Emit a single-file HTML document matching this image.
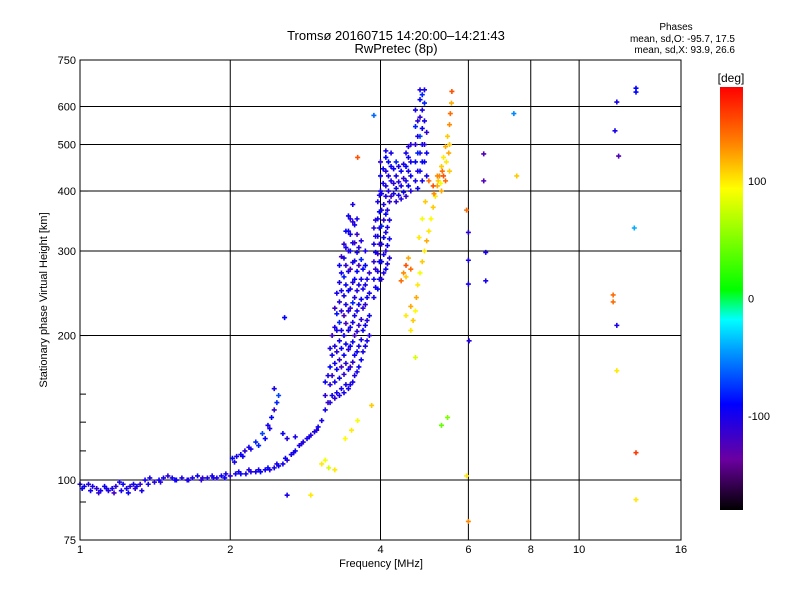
<!DOCTYPE html>
<html><head><meta charset="utf-8"><style>
body{margin:0;background:#fff;}
svg{display:block;font-family:"Liberation Sans",sans-serif;}
</style></head><body>
<svg id="chart" width="800" height="600" viewBox="0 0 800 600" xmlns="http://www.w3.org/2000/svg">
<rect x="0" y="0" width="800" height="600" fill="#fff"/>
<text x="396" y="40" text-anchor="middle" font-size="13">Tromsø 20160715 14:20:00–14:21:43</text>
<text x="396" y="53" text-anchor="middle" font-size="13">RwPretec (8p)</text>
<text x="676" y="30" text-anchor="middle" font-size="10">Phases</text>
<text x="735" y="42" text-anchor="end" font-size="10">mean, sd,O: -95.7, 17.5</text>
<text x="735" y="53" text-anchor="end" font-size="10">mean, sd,X:  93.9, 26.6</text>
<g id="grid"></g>
<g id="marks"></g>
<rect x="80" y="60" width="601" height="480" fill="none" stroke="#000" stroke-width="1"/>
<g id="axes"></g>
<text x="381" y="567" text-anchor="middle" font-size="11">Frequency [MHz]</text>
<text transform="translate(47,300) rotate(-90)" text-anchor="middle" font-size="11">Stationary phase Virtual Height [km]</text>
<defs><linearGradient id="cbg" x1="0" y1="1" x2="0" y2="0">
<stop offset="0" stop-color="#000000"/><stop offset="0.12" stop-color="#6a00a0"/><stop offset="0.25" stop-color="#0000ff"/><stop offset="0.38" stop-color="#00a0ff"/><stop offset="0.45" stop-color="#00ffff"/><stop offset="0.52" stop-color="#00ff00"/><stop offset="0.76" stop-color="#ffff00"/><stop offset="0.87" stop-color="#ff8000"/><stop offset="1" stop-color="#ff0000"/>
</linearGradient></defs>
<rect x="720" y="87" width="23" height="423" fill="url(#cbg)"/>
<text x="731" y="82" text-anchor="middle" font-size="12">[deg]</text>
<g id="cbticks"></g>
</svg>
<script>
const xTicks=[1,2,4,6,8,10,16];
const xGrid=[2,4,6,8,10];
const yTicks=[75,100,200,300,400,500,600,750];
const yGrid=[100,200,300,400,500,600];
const yMinor=[90,115,132,151];
const cbTicks=[100,0,-100];
const oFreq=[1.0,1.02,1.04,1.06,1.08,1.1,1.12,1.14,1.16,1.18,1.2,1.22,1.24,1.26,1.28,1.3,1.32,1.35,1.38,1.41,1.44,1.47,1.5,1.53,1.56,1.6,1.64,1.68,1.72,1.76,1.8,1.84,1.88,1.92,1.96,2.0,2.05,2.1,2.15,2.2,2.25,2.3,2.35,2.4,2.45,2.5,2.55,2.6,2.65,2.7,2.75,2.8,2.85,2.9,2.95,3.0,3.05,
1.01,1.05,1.09,1.13,1.17,1.21,1.25,1.29,1.33,1.37,1.45,1.55,1.65,1.75,1.85,1.95,2.08,2.18,2.28,2.38,2.48,2.58,2.68,2.78,2.88,2.98,
2.02,2.06,2.1,2.14,2.18,2.25,2.32,2.38,2.42,2.45,2.48,2.5,2.45,2.55,2.6,2.7,2.04,2.12,2.2,2.28,2.35,2.4,
3.1,3.1,3.1,3.17,3.17,3.17,3.17,3.24,3.24,3.24,3.24,3.24,3.24,
3.31,3.31,3.31,3.31,3.31,3.31,3.31,3.31,3.38,3.38,3.38,3.38,3.38,3.38,3.38,3.38,3.38,
3.45,3.45,3.45,3.45,3.45,3.45,3.45,3.45,3.45,3.45,3.52,3.52,3.52,3.52,3.52,3.52,3.52,3.52,3.52,3.52,
3.59,3.59,3.59,3.59,3.59,3.59,3.59,3.59,3.59,3.66,3.66,3.66,3.66,3.66,3.66,3.66,3.73,3.73,3.73,3.73,3.73,3.73,3.8,3.8,3.8,3.8,
3.14,3.14,3.2,3.2,3.2,3.2,3.27,3.27,3.27,3.27,3.27,3.27,3.34,3.34,3.34,3.34,3.34,3.34,3.34,3.34,
3.41,3.41,3.41,3.41,3.41,3.41,3.41,3.41,3.41,3.48,3.48,3.48,3.48,3.48,3.48,3.48,3.48,3.48,3.48,
3.55,3.55,3.55,3.55,3.55,3.55,3.55,3.55,3.55,3.62,3.62,3.62,3.62,3.62,3.62,3.62,3.69,3.69,3.69,3.69,3.69,3.76,3.76,3.76,3.76,
3.88,3.88,3.88,3.88,3.88,3.95,3.95,3.95,3.95,3.95,3.95,4.02,4.02,4.02,4.02,4.02,4.02,4.1,4.1,4.1,4.1,4.1,4.17,4.17,4.17,4.17,
3.91,3.91,3.91,3.91,3.91,3.98,3.98,3.98,3.98,3.98,3.98,4.06,4.06,4.06,4.06,4.06,4.13,4.13,4.13,4.13,
4.0,4.0,4.0,4.1,4.1,4.1,4.1,4.2,4.2,4.2,4.2,4.3,4.3,4.3,4.3,4.4,4.4,4.4,4.5,4.5,4.5,4.5,4.6,4.6,4.6,4.6,
4.05,4.05,4.15,4.15,4.15,4.25,4.25,4.25,4.35,4.35,4.35,4.45,4.45,4.45,4.55,4.55,4.55,4.55,
4.7,4.7,4.7,4.7,4.7,4.8,4.8,4.8,4.8,4.8,4.8,4.9,4.9,4.9,4.9,4.9,
4.75,4.75,4.75,4.75,4.75,4.85,4.85,4.85,4.85,4.85,4.85,4.95,4.95,4.95,
3.88,6.44,6.44,7.4,6.0,6.0,6.0,6.02,6.5,2.57,11.8,11.9,13.0,13.0,12.0,11.9,2.6,6.5,12.9];
const oHeight=[98,97,98,97,96,95,97,95,96,97,99,98,96,97,98,97,98,100,101,99,100,101,102,101,100,101,100,101,102,101,101,102,101,102,103,102,103,103,103,104,104,104,105,105,106,107,108,110,113,115,118,120,122,124,126,129,133,
96,95,94,96,94,95,94,96,95,98,99,100,100,100,101,101,104,105,105,106,108,111,114,119,123,127,
111,112,113,115,117,120,125,130,135,140,145,150,155,125,122,123,109,112,116,118,122,128,
140,150,160,145,158,172,188,148,160,175,190,208,228,
150,163,178,195,213,235,258,280,152,166,182,200,220,242,265,290,310,
155,170,187,205,225,248,272,300,330,355,160,176,194,213,234,258,284,312,345,375,
168,185,204,225,248,272,298,325,350,178,196,216,238,262,288,315,190,210,232,255,280,300,200,220,245,270,
145,165,150,165,182,200,152,170,185,205,222,245,155,172,188,205,225,248,270,292,
158,175,192,212,232,255,280,305,330,158,172,190,208,228,250,275,300,325,350,
165,182,200,220,240,262,286,312,340,172,190,210,232,255,280,305,185,205,228,250,275,195,215,240,262,
240,262,285,310,335,250,272,296,322,350,380,262,285,310,338,365,395,275,300,328,358,390,290,318,348,380,
252,275,298,322,348,262,285,310,335,362,392,270,295,320,348,375,282,308,336,365,
400,430,460,410,440,470,485,390,420,450,480,380,405,430,460,385,410,440,390,420,450,480,400,430,460,500,
415,445,400,430,460,395,415,445,392,418,450,398,425,455,410,440,470,495,
420,460,500,545,590,440,480,520,570,620,650,460,500,560,610,650,
405,440,480,520,560,420,460,500,540,590,635,430,480,530,
575,478,420,580,328,287,256,195,298,218,534,613,643,655,473,210,93,260,335];
const oPhase=[-100,-95,-105,-100,-110,-100,-95,-105,-100,-110,-100,-95,-100,-105,-100,-95,-110,-100,-100,-105,-95,-100,-110,-100,-95,-100,-105,-100,-95,-110,-100,-100,-105,-95,-100,-110,-100,-95,-100,-105,-100,-90,-100,-105,-100,-95,-100,-110,-100,-95,-100,-105,-100,-110,-100,-95,-100,
-95,-100,-110,-100,-120,-100,-95,-110,-100,-100,-105,-95,-100,-110,-100,-95,-100,-105,-100,-90,-100,-95,-100,-105,-100,-110,
-90,-100,-95,-110,-100,-80,-70,-100,-90,-110,-80,-70,-100,-95,-105,-100,-100,-95,-100,-80,-90,-100,
-100,-110,-95,-100,-105,-90,-100,-110,-100,-95,-105,-100,-115,
-100,-95,-110,-100,-80,-105,-100,-95,-100,-110,-95,-100,-120,-100,-85,-100,-110,
-100,-95,-110,-100,-105,-90,-100,-115,-100,-95,-100,-110,-95,-100,-80,-105,-100,-95,-110,-100,
-100,-95,-110,-100,-105,-90,-100,-115,-100,-95,-100,-110,-95,-100,-80,-105,-100,-95,-110,-100,-90,-100,-105,-95,-100,-110,
-115,-100,-95,-110,-100,-120,-100,-95,-110,-100,-85,-100,-100,-120,-95,-100,-110,-100,-95,-115,
-100,-110,-95,-120,-100,-95,-110,-100,-90,-100,-115,-95,-100,-110,-100,-120,-95,-100,-105,
-100,-95,-120,-100,-105,-90,-100,-115,-100,-95,-100,-110,-95,-100,-120,-105,-100,-95,-110,-100,-90,-100,-105,-95,-100,
-100,-95,-110,-100,-105,-90,-100,-115,-100,-95,-100,-110,-95,-100,-80,-105,-100,-95,-110,-100,-90,-100,-105,-95,-100,-110,
-100,-110,-95,-100,-105,-100,-95,-110,-100,-90,-100,-105,-100,-95,-110,-100,-100,-95,-100,-105,
-100,-95,-110,-100,-105,-90,-100,-115,-100,-95,-100,-110,-95,-100,-80,-105,-100,-95,-110,-100,-90,-100,-105,-95,-100,-110,
-100,-95,-105,-100,-90,-100,-110,-95,-100,-105,-100,-95,-110,-100,-90,-100,-95,-105,
-100,-90,-110,-80,-100,-95,-100,-70,-110,-90,-100,-95,-110,-100,-80,-100,
-95,-100,-80,-100,-110,-100,-90,-100,-95,-100,-80,-100,-95,-110,
-60,-125,-125,-50,-110,-100,-100,-105,-100,-90,-100,-100,-90,-90,-125,-100,-100,-100,-40];
const xFreq=[4.6,4.65,4.7,4.72,4.75,4.8,4.85,4.9,4.95,5.0,5.05,5.1,5.15,5.2,5.25,5.3,5.35,5.4,5.45,5.5,5.52,5.55,5.56,
4.4,4.45,4.5,4.55,4.6,4.5,5.0,5.1,5.2,5.3,5.4,5.5,4.78,4.85,4.92,
5.12,5.22,5.32,5.42,5.48,5.5,5.35,5.28,
3.05,3.1,3.15,3.24,3.4,3.5,3.6,3.84,4.5,4.7,4.6,
5.95,6.0,5.95,3.6,7.5,11.7,11.7,13.0,13.0,11.9,2.9,5.3,5.45];
const xHeight=[205,215,225,240,255,270,285,300,315,330,350,370,390,410,430,450,470,495,520,550,580,610,645,
260,270,280,290,275,265,420,410,430,400,420,440,320,350,380,
395,420,440,460,480,500,430,415,
108,110,106,105,122,127,133,143,220,180,230,
102,82,365,470,430,243,235,114,91,169,93,130,135];
const xPhase=[100,110,95,120,100,90,110,100,120,100,95,110,100,120,130,110,100,120,110,130,140,120,150,
140,130,150,120,140,110,140,150,130,120,140,110,100,90,110,
130,110,140,100,120,110,150,90,
100,90,80,100,95,100,90,110,100,80,120,
100,130,140,150,110,140,140,160,100,100,100,40,50];

const fmin=1,fmax=16,hmin=75,hmax=750,L=80,R=681,T=60,B=540;
function xs(f){return L+(R-L)*Math.log(f/fmin)/Math.log(fmax/fmin);}
function ys(h){return B-(B-T)*Math.log(h/hmin)/Math.log(hmax/hmin);}
function cs(p){return 87+423*(180-p)/360;}
const stops=[[0,[0,0,0]],[0.12,[106,0,160]],[0.25,[0,0,255]],[0.38,[0,160,255]],[0.45,[0,255,255]],[0.52,[0,255,0]],[0.76,[255,255,0]],[0.87,[255,128,0]],[1,[255,0,0]]];
function color(p){let t=Math.max(0,Math.min(1,(p+180)/360));for(let i=1;i<stops.length;i++){if(t<=stops[i][0]){const a=stops[i-1],b=stops[i];const u=(t-a[0])/(b[0]-a[0]);const c=a[1].map((v,k)=>Math.round(v+(b[1][k]-v)*u));return 'rgb('+c.join(',')+')';}}return 'rgb(255,0,0)';}
const NS='http://www.w3.org/2000/svg';
function mk(tag,attrs,parent){const e=document.createElementNS(NS,tag);for(const k in attrs)e.setAttribute(k,attrs[k]);parent.appendChild(e);return e;}
const grid=document.getElementById('grid'),axes=document.getElementById('axes'),marks=document.getElementById('marks'),cbt=document.getElementById('cbticks');
xGrid.forEach(v=>{const l=mk('line',{x1:xs(v),x2:xs(v),y1:T,y2:B,stroke:'#000','stroke-width':1},grid);

});
yGrid.forEach(v=>{const l=mk('line',{x1:L,x2:R,y1:ys(v),y2:ys(v),stroke:'#000','stroke-width':1},grid);

});
xTicks.forEach(v=>{const t=mk('text',{x:xs(v),y:553,'text-anchor':'middle','font-size':11},axes);t.textContent=v;

});
yTicks.forEach(v=>{const t=mk('text',{x:76,y:ys(v)+4,'text-anchor':'end','font-size':11},axes);t.textContent=v;


const k=mk('line',{x1:L,x2:L+8,y1:ys(v),y2:ys(v),stroke:'#000'},axes);

});
yMinor.forEach(v=>{const k=mk('line',{x1:L,x2:L+6,y1:ys(v),y2:ys(v),stroke:'#000'},axes);

});
cbTicks.forEach(v=>{const t=mk('text',{x:748,y:cs(v)+4,'font-size':11},cbt);t.textContent=v;

});
function plot(F,H,P,name){for(let i=0;i<F.length;i++){const x=xs(F[i]),y=ys(H[i]),c=color(P[i]);
const g=mk('path',{d:'M'+(x-2.5)+' '+y+'h5M'+x+' '+(y-2.5)+'v5',stroke:c,'stroke-width':1.6,fill:'none'},marks);

}}
plot(oFreq,oHeight,oPhase,'o-mode-point');
plot(xFreq,xHeight,xPhase,'x-mode-point');
</script>
</body></html>
